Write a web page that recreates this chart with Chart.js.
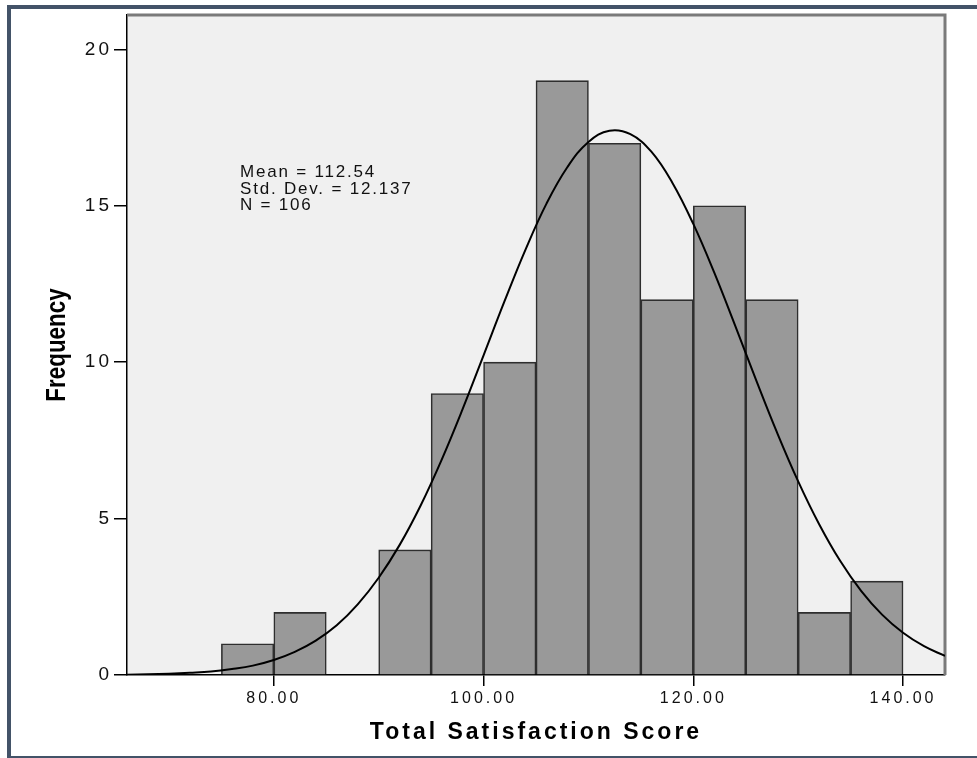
<!DOCTYPE html>
<html>
<head>
<meta charset="utf-8">
<script src="https://cdn.jsdelivr.net/npm/chart.js@4.4.1/dist/chart.umd.min.js"></script>
<style>
  html, body { margin: 0; padding: 0; background: #fff; overflow: hidden; }
  #frame {
    position: absolute; left: 7px; top: 5px; width: 1000px; height: 747px;
    border: 4px solid #435368; background: #fff;
  }
  #wrap { position: absolute; left: 0; top: 0; width: 977px; height: 758px; }
</style>
</head>
<body>
<div id="frame"></div>
<div id="wrap"><canvas id="hist"></canvas></div>
<script>
// histogram bins (start of each 5-point bin) and counts
const binStarts = [75, 80, 85, 90, 95, 100, 105, 110, 115, 120, 125, 130, 135];
const freqs     = [1, 2, 0, 4, 9, 10, 19, 17, 12, 15, 12, 2, 3];
const binWidth = 5;

// normal curve
const curveX = [66, 68, 70, 72, 74, 76, 78, 80, 82, 84, 86, 88, 90, 92, 94, 96, 98, 100,
  102, 104, 106, 108, 110, 112, 114, 116, 118, 120, 122, 124, 126, 128, 130, 132, 134,
  136, 138, 140, 142, 144];
const curveY = [0.01, 0.02, 0.04, 0.07, 0.11, 0.19, 0.30, 0.48, 0.74, 1.10, 1.59, 2.26,
  3.11, 4.16, 5.42, 6.88, 8.50, 10.22, 11.95, 13.60, 15.07, 16.24, 17.04, 17.40, 17.29,
  16.73, 15.74, 14.42, 12.86, 11.16, 9.42, 7.74, 6.19, 4.82, 3.65, 2.69, 1.93, 1.35,
  0.92, 0.61];

const xTicks = [80, 100, 120, 140];
const yTicks = [0, 5, 10, 15, 20];
const statsText = ['Mean = 112.54', 'Std. Dev. = 12.137', 'N = 106'];

Chart.defaults.font.family = '"Liberation Sans", Arial, sans-serif';
Chart.defaults.color = '#111';

const spssLook = {
  id: 'spssLook',
  beforeDraw(chart) {
    const {ctx, chartArea: a} = chart;
    ctx.fillStyle = '#f0f0f0';
    ctx.fillRect(a.left, a.top, a.right - a.left, a.bottom - a.top);
    // the SPSS text is drawn wide
    ctx.letterSpacing = '3px';
  },
  beforeDatasetsDraw(chart) {
    const {ctx, chartArea: a} = chart;
    ctx.save();
    ctx.strokeStyle = '#7a7a7a';
    ctx.lineWidth = 3;
    ctx.beginPath();
    ctx.moveTo(a.left, a.top);
    ctx.lineTo(a.right, a.top);
    ctx.lineTo(a.right, a.bottom);
    ctx.stroke();
    ctx.restore();
  },
  afterDraw(chart) {
    const {ctx, chartArea: a} = chart;
    ctx.save();
    ctx.letterSpacing = '1.8px';
    ctx.fillStyle = '#111';
    ctx.font = '17px "Liberation Sans", Arial, sans-serif';
    ctx.textAlign = 'left';
    ctx.textBaseline = 'alphabetic';
    statsText.forEach((t, i) => ctx.fillText(t, 240, 177 + i * 16.5));

    ctx.letterSpacing = '0px';
    ctx.fillStyle = '#000';
    ctx.font = 'bold 28px "Liberation Sans", Arial, sans-serif';
    ctx.textAlign = 'center';
    ctx.textBaseline = 'middle';
    ctx.translate(57, (a.top + a.bottom) / 2);
    ctx.rotate(-Math.PI / 2);
    ctx.scale(0.8, 1);
    ctx.fillText('Frequency', 0, 0);
    ctx.restore();
  }
};

new Chart('hist', {
  type: 'bar',
  data: {
    datasets: [{
      type: 'line',
      label: 'Normal',
      data: curveX.map((x, i) => ({x: x, y: curveY[i]})),
      borderColor: '#000',
      borderWidth: 2,
      pointRadius: 0,
      tension: 0.4,
      fill: false,
      order: 0
    }, {
      label: 'Frequency',
      data: binStarts.map((s, i) => ({x: s + binWidth / 2, y: freqs[i]})),
      backgroundColor: '#999999',
      borderColor: '#2e2e2e',
      borderWidth: 1.6,
      barPercentage: 1,
      categoryPercentage: 1,
      order: 1
    }]
  },
  options: {
    responsive: true,
    maintainAspectRatio: false,
    animation: false,
    layout: { padding: { left: 0, top: 15, right: 32, bottom: 0 } },
    plugins: { legend: { display: false }, tooltip: { enabled: false } },
    scales: {
      x: {
        type: 'linear',
        min: 66,
        max: 144,
        offset: false,
        afterFit: s => { s.height = 83; },
        afterBuildTicks: s => { s.ticks = xTicks.map(v => ({value: v})); },
        grid: { offset: false, drawOnChartArea: false, tickLength: 11, color: '#000', lineWidth: 1.5 },
        border: { color: '#000', width: 1.5 },
        ticks: { padding: 3, font: { size: 16 }, maxRotation: 0, callback: v => v.toFixed(2) },
        title: {
          display: true,
          text: 'Total Satisfaction Score',
          font: { size: 23, weight: 'bold' },
          padding: { top: 0, bottom: 12 },
          color: '#000'
        }
      },
      y: {
        min: 0,
        max: 21.1,
        afterFit: s => { s.width = 127; },
        afterBuildTicks: s => { s.ticks = yTicks.map(v => ({value: v})); },
        grid: { drawOnChartArea: false, tickLength: 13, color: '#000', lineWidth: 1.5 },
        border: { color: '#000', width: 1.5 },
        ticks: { padding: 2, font: { size: 19 } }
      }
    }
  },
  plugins: [spssLook]
});
</script>
</body>
</html>
